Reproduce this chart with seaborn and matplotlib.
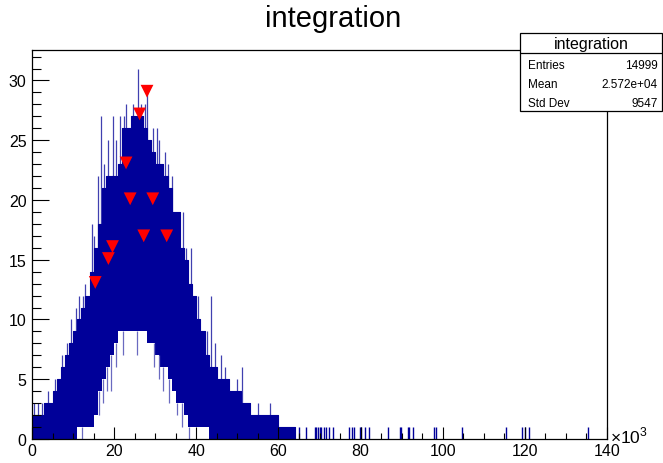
import numpy as np
import pandas as pd
import matplotlib
matplotlib.use("Agg")
import matplotlib.pyplot as plt
from matplotlib.patches import Rectangle
from matplotlib.lines import Line2D
import seaborn as sns

# ---- data (x in units of 1e3) ----
bin_left_k = list(range(0, 64))          # 1k-wide groups of fine bins
upper_env = [2, 2, 2, 3, 3, 4, 5, 6, 7, 8, 9, 10, 11, 12, 14, 16, 18, 21, 22, 22,
             22, 23, 26, 26, 27, 27, 27, 26, 25, 24, 23, 23, 22, 21, 19, 19, 16, 15, 13, 12,
             10, 9, 7, 6, 6, 5, 5, 5, 4, 4, 4, 3, 3, 2, 2, 2, 2, 2, 2, 2,
             1, 1, 1, 1]
lower_env = [0, 0, 0, 0, 0, 0, 0, 0, 0, 0, 0, 1, 1, 1, 1, 2, 4, 5, 6, 7,
             8, 9, 9, 9, 9, 9, 9, 9, 8, 8, 7, 6, 6, 5, 4, 3, 3, 2, 1, 1,
             1, 1, 1, 0, 0, 0, 0, 0, 0, 0, 0, 0, 0, 0, 0, 0, 0, 0, 0, 0,
             0, 0, 0, 0]
spike_x_k = [1.5, 3.8, 5.5, 8.5, 9.5, 11.5, 13.0, 14.5, 16.0, 16.8, 18.5, 19.6, 21.5,
             23.0, 25.9, 26.5, 28.0, 29.5, 31.0, 32.5, 34.0, 35.9, 36.8, 38.6, 43.6,
             44.5, 47.0, 50.0, 51.2, 58.0, 0.6, 2.4, 7.2, 10.6, 12.4, 15.2, 17.6,
             20.4, 22.4, 24.6, 27.4, 30.4, 33.2, 37.6, 40.4, 42.6, 46.0, 55.0]
spike_top = [3, 4, 5, 8, 10, 12, 13, 18, 22, 27, 25, 27, 27,
             28, 31, 28, 29, 26, 25, 24, 22, 19, 19, 16, 12,
             8, 6, 5, 6, 3, 3, 3, 7, 11, 12, 17, 23,
             25, 27, 28, 28, 26, 23, 16, 12, 9, 7, 3]
# thin bins dipping from the band down into the hole: (x, bottom, top)
gap_x_k = [12.2, 15.6, 16.4, 17.2, 18.2, 19.3, 20.4, 22.2, 25.6, 29.6,
           30.8, 31.8, 33.4, 35.2, 36.4, 38.2]
gap_low = [0, 2, 2, 3, 4, 4, 6, 7, 7, 6, 5, 4, 3, 2, 1, 0]
gap_high = [1, 2, 4, 5, 6, 7, 8, 9, 9, 8, 7, 6, 5, 3, 3, 1]
tail_x_k = [65.1, 66.6, 68.8, 69.2, 69.6, 70.0, 70.4, 71.0, 71.6, 72.4, 73.2, 77.3,
            78.0, 78.5, 79.8, 80.2, 81.0, 82.0, 86.7, 89.7, 89.9, 91.5, 91.8, 92.8,
            97.9, 98.3, 104.8, 115.3, 119.4, 120.0, 121.0, 135.4]
peak_x_k = [28.0, 26.2, 22.9, 23.9, 29.4, 27.2, 32.8, 19.6, 18.6, 15.4]
peak_y = [29.1, 27.2, 23.1, 20.1, 20.1, 17.0, 17.0, 16.1, 15.1, 13.1]
x_tick_labels = ["0", "20", "40", "60", "80", "100", "120", "140"]
stats_labels = ["Entries", "Mean", "Std Dev"]
stats_values = ["14999", "2.572e+04", "9547"]
hist_name = "integration"

# ---- style ----
sns.set_theme(style="ticks")
plt.rcParams["font.family"] = ["Liberation Sans", "DejaVu Sans"]
plt.rcParams["text.color"] = "black"
plt.rcParams["xtick.color"] = "black"
plt.rcParams["ytick.color"] = "black"
plt.rcParams["xtick.labelcolor"] = "black"
plt.rcParams["ytick.labelcolor"] = "black"
plt.rcParams["mathtext.fontset"] = "custom"
plt.rcParams["mathtext.rm"] = "Liberation Sans"
BLUE = "#000099"

W, H = 663, 464
fig = plt.figure(figsize=(W / 100, H / 100), dpi=100)
fig.patch.set_facecolor("white")
ax_l, ax_r, ax_t, ax_b = 32, 607, 51, 440
ax = fig.add_axes([ax_l / W, (H - ax_b) / H, (ax_r - ax_l) / W, (ax_b - ax_t) / H])
ax.set_facecolor("white")
ax.set_axisbelow(False)

df = pd.DataFrame({
    "x": [(b + 0.5) * 1000 for b in bin_left_k],
    "upper": upper_env,
    "lower": lower_env,
})
edges = [int(v) for v in np.arange(0, (bin_left_k[-1] + 2) * 1000, 1000)]

# thin single-bin spikes above the band (behind it)
ax.vlines([v * 1000 for v in spike_x_k], 0, spike_top, color="#4040b0", lw=0.9, zorder=1.2)

sns.histplot(data=df, x="x", weights="upper", bins=edges, element="step", fill=True,
             color=BLUE, alpha=1, linewidth=0.8, edgecolor=BLUE, ax=ax, zorder=1.5)
sns.histplot(data=df, x="x", weights="lower", bins=edges, element="step", fill=True,
             color="white", alpha=1, linewidth=0, ax=ax, zorder=1.6)

# thin bins dipping into the hole
ax.vlines([v * 1000 for v in gap_x_k], gap_low, gap_high, color="#6a6ac0", lw=0.9,
          zorder=1.65)

ymax = 32.55
sns.rugplot(x=[v * 1000 for v in tail_x_k], height=1 / ymax, color=BLUE, lw=1,
            expand_margins=False, ax=ax, zorder=1.7)

sns.scatterplot(x=[v * 1000 for v in peak_x_k], y=peak_y, marker="v", s=85,
                color="red", edgecolor="none", linewidth=0, ax=ax, zorder=5, legend=False)

ax.set_xlim(0, 140000)
ax.set_ylim(0, ymax)
ax.set_xlabel("")
ax.set_ylabel("")
ax.set_xticks(np.arange(0, 140001, 20000))
ax.set_xticklabels(x_tick_labels)
ax.set_xticks(np.arange(0, 140001, 5000), minor=True)
ax.set_yticks(np.arange(0, 31, 5))
ax.set_yticks(np.arange(0, 33, 1), minor=True)
ax.tick_params(axis="x", which="major", direction="in", length=8.5, width=0.8,
               labelsize=11.5, pad=3, color="black", top=False)
ax.tick_params(axis="x", which="minor", direction="in", length=4.3, width=0.8,
               color="black", top=False)
ax.tick_params(axis="y", which="major", direction="in", length=12.5, width=0.8,
               labelsize=11.5, pad=4, color="black", right=False)
ax.tick_params(axis="y", which="minor", direction="in", length=6.2, width=0.8,
               color="black", right=False)
for s in ax.spines.values():
    s.set_visible(True)
    s.set_color("black")
    s.set_linewidth(0.9)
    s.set_zorder(6)

ax.text(1.006, 4.0 / 389, r"$\times$10$^{3}$", transform=ax.transAxes, ha="left",
        va="center", fontsize=12.5, color="black")

fig.text(333 / W, 1 - 19 / H, hist_name, ha="center", va="center", fontsize=21,
         color="black")

# stats box
bx0, bx1, by0, by1 = 520, 662, 34, 112
fig.patches.append(Rectangle((bx0 / W, 1 - by1 / H), (bx1 - bx0) / W, (by1 - by0) / H,
                             transform=fig.transFigure, facecolor="white",
                             edgecolor="black", lw=0.9, zorder=10))
fig.lines.append(Line2D([bx0 / W, bx1 / W], [1 - 54 / H, 1 - 54 / H],
                        transform=fig.transFigure, color="black", lw=0.9, zorder=11))
fig.text((bx0 + bx1) / 2 / W, 1 - 44 / H, hist_name, ha="center", va="center",
         fontsize=11.5, zorder=12, color="black")
for i, (lab, val) in enumerate(zip(stats_labels, stats_values)):
    yy = 1 - (65.7 + i * 19.3) / H
    fig.text(528 / W, yy, lab, ha="left", va="center", fontsize=8.5, zorder=12,
             color="black")
    fig.text(658 / W, yy, val, ha="right", va="center", fontsize=8.5, zorder=12,
             color="black")

fig.savefig("out.png", dpi=100)
